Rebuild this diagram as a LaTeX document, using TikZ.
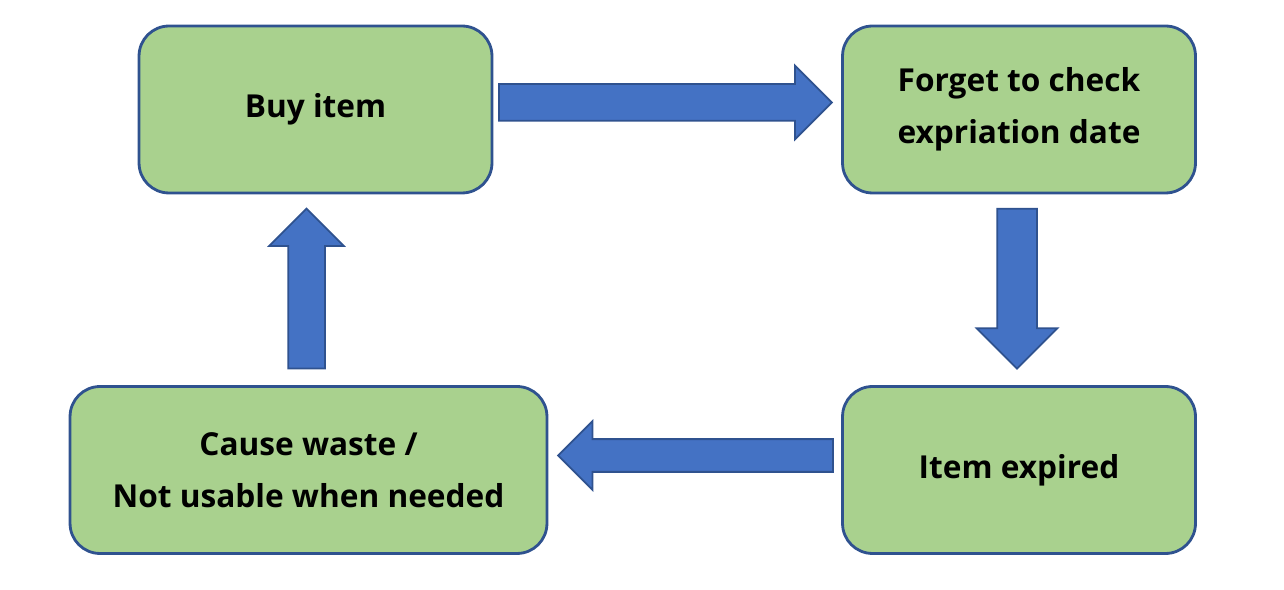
\documentclass[tikz,border=0pt]{standalone}
\usepackage{fontspec}
\setmainfont{Open Sans}
\usetikzlibrary{shapes.arrows,calc}
\definecolor{boxgreen}{HTML}{A9D18E}
\definecolor{boxline}{HTML}{2F528F}
\definecolor{arrowblue}{HTML}{4472C4}
\begin{document}
\begin{tikzpicture}[x=0.02cm,y=-0.02cm]
        \tikzstyle{block} = [rectangle, rounded corners=0.6cm, text=black, align=center, draw=boxline, fill=boxgreen, line width=1.6pt, font=\fontsize{18}{29.5}\selectfont\bfseries, minimum height=3.34cm, minimum width=7.06cm]
        \tikzstyle{fat} = [single arrow, draw=boxline, fill=arrowblue, line width=1pt, inner xsep=0pt]
        \useasboundingbox (0,0) rectangle (1284,590);
        \node[block] (buy) at (315.5,109.5) {Buy item};
        \node[block] (forget) at (1019,109.5) {Forget to check\\expriation date};
        \node[block] (expired) at (1019,470) {Item expired};
        \node[block, minimum width=9.54cm] (waste) at (308.5,470) {Cause waste /\\Not usable when needed};
        \node[fat, minimum height=6.66cm, inner ysep=0.35cm, single arrow head extend=0.37cm] (a1) at ($(buy.east)!0.5!(forget.west)+(-11,-7)$) {};
        \node[fat, rotate=-90, minimum height=3.2cm, inner ysep=0.38cm, single arrow head extend=0.41cm] (a2) at ($(forget.south)!0.5!(expired.north)+(-2,-11)$) {};
        \node[fat, rotate=180, minimum height=5.5cm, inner ysep=0.31cm, single arrow head extend=0.36cm] (a3) at ($(waste.east)!0.5!(expired.west)+(9,-14.5)$) {};
        \node[fat, rotate=90, minimum height=3.2cm, inner ysep=0.35cm, single arrow head extend=0.38cm] (a4) at ($(buy.south)!0.5!(waste.north)+(-5.5,8)$) {};
    \end{tikzpicture}
\end{document}
